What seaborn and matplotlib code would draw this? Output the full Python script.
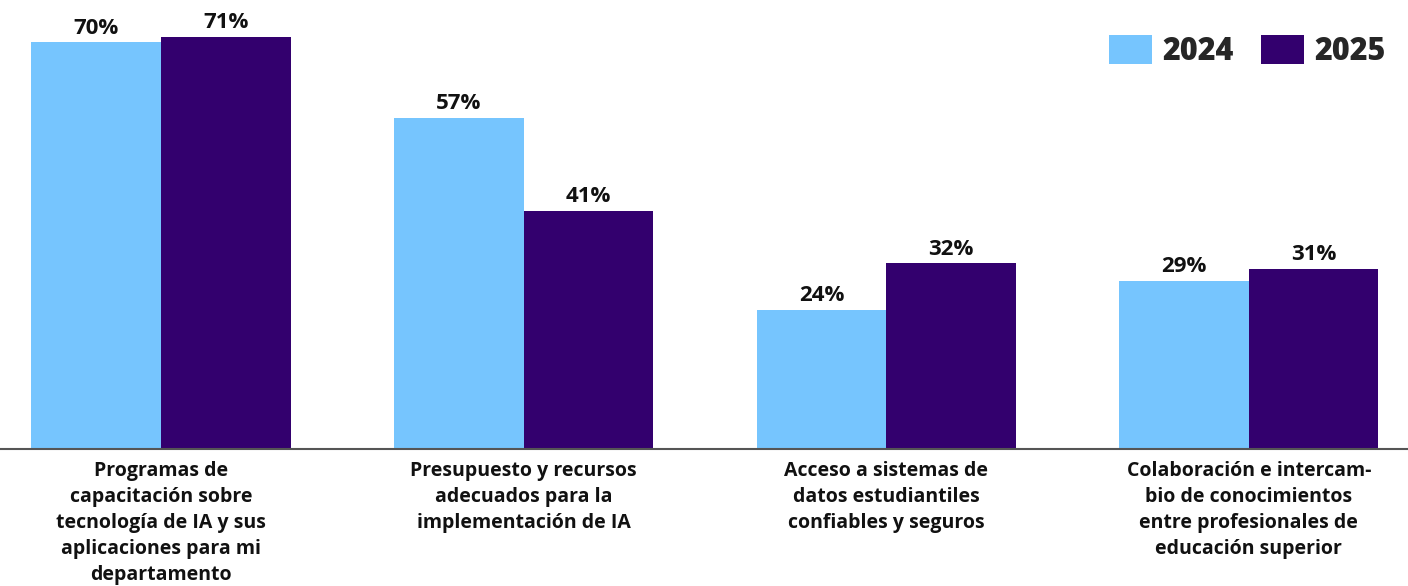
import matplotlib
matplotlib.use("Agg")
import matplotlib.pyplot as plt
from matplotlib.patches import Patch
import seaborn as sns
import pandas as pd

categories = [
    "Programas de\ncapacitación sobre\ntecnología de IA y sus\naplicaciones para mi\ndepartamento",
    "Presupuesto y recursos\nadecuados para la\nimplementación de IA",
    "Acceso a sistemas de\ndatos estudiantiles\nconfiables y seguros",
    "Colaboración e intercam-\nbio de conocimientos\nentre profesionales de\neducación superior",
]
years = ["2024", "2025"]
values_2024 = [70, 57, 24, 29]
values_2025 = [71, 41, 32, 31]
colors = ["#76C5FE", "#33006E"]

df = pd.DataFrame({
    "categoria": categories * 2,
    "año": [years[0]] * len(categories) + [years[1]] * len(categories),
    "valor": values_2024 + values_2025,
})

sns.set_theme(style="white")
plt.rcParams["font.family"] = ["Open Sans", "DejaVu Sans"]

fig = plt.figure(figsize=(14.08, 5.86), dpi=100)
ax = fig.add_axes([0.0, 0.2338, 1.0, 0.7662])

sns.barplot(data=df, x="categoria", y="valor", hue="año", palette=colors,
            width=0.715, gap=0, dodge=True, saturation=1, ax=ax, legend=False,
            linewidth=0, edgecolor="none")

for container in ax.containers:
    ax.bar_label(container, fmt="%d%%", padding=2.5, fontsize=16,
                 fontweight="bold", color="#111111")

ax.set_xlim(-0.444, 3.439)
ax.set_ylim(0, 77.3)
ax.set_xlabel("")
ax.set_ylabel("")
ax.set_yticks([])
for side in ["top", "right", "left"]:
    ax.spines[side].set_visible(False)
ax.spines["bottom"].set_color("#555555")
ax.spines["bottom"].set_linewidth(1.5)
ax.tick_params(axis="x", length=0, pad=9)
for lbl in ax.get_xticklabels():
    lbl.set_fontsize(14)
    lbl.set_fontweight("bold")
    lbl.set_color("#111111")
    lbl.set_linespacing(1.4)
    lbl.set_multialignment("center")

handles = [Patch(facecolor=c, edgecolor="none") for c in colors]
leg = ax.legend(handles, years, loc="upper right", bbox_to_anchor=(0.993, 0.95),
                ncol=2, frameon=False, prop={"size": 22, "weight": "heavy"},
                handlelength=1.4, handleheight=1.1, handletextpad=0.35,
                columnspacing=0.9, borderaxespad=0)

fig.savefig("out.png", dpi=100, facecolor="white")
